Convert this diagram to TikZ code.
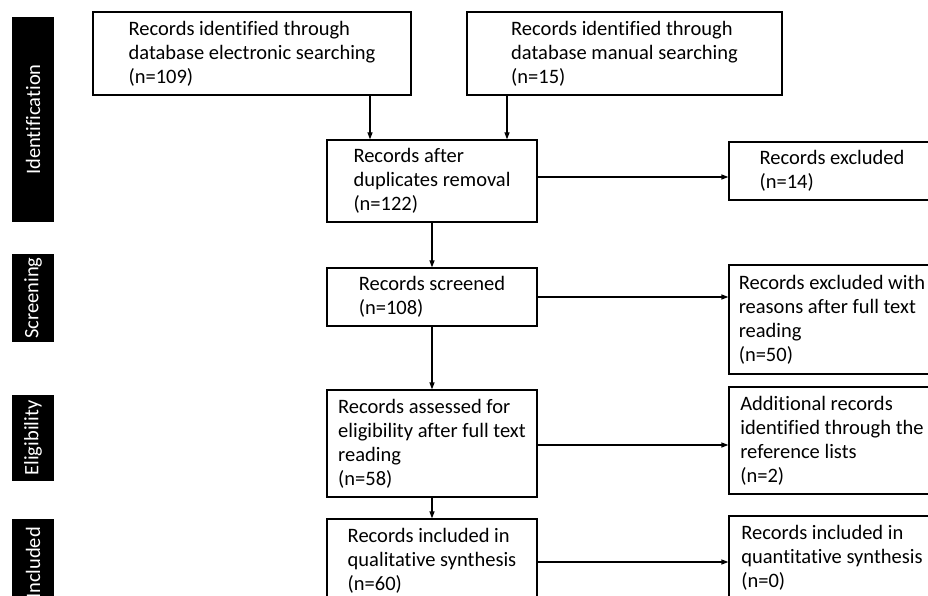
\documentclass[tikz,border=0pt]{standalone}
\usepackage{fontspec}
\setmainfont[Ligatures=NoCommon]{Carlito}
\usetikzlibrary{arrows.meta}

\begin{document}
\begin{tikzpicture}[x=1pt, y=-1pt, font=\fontsize{20.5}{24}\selectfont]
\tikzset{boite/.style={draw, line width=1.3pt, align=left, inner sep=0pt, minimum width=210pt},
  etape/.style={fill=black, text=white, rotate=90, minimum height=42pt, inner sep=0pt},
  fleche/.style={-{Triangle[length=7pt, width=5pt]}, line width=1.3pt}}
\useasboundingbox (0,0) rectangle (928,596);
\clip (0,0) rectangle (928,596);
% phases
\node[etape, minimum width=205pt] (P1) at (33,119.5) {Identification};
\node[etape, minimum width=88pt] (P2) at (33,298) {Screening};
\node[etape, minimum width=86pt] (P3) at (33,438) {Eligibility};
\node[etape, minimum width=88pt] (P4) at (33,563) {Included};
% boxes
\node[boite, minimum width=318pt, minimum height=83pt] (R1) at (252,53.5) {Records identified through\\database electronic searching\\(n=109)};
\node[boite, minimum width=315pt, minimum height=83pt] (R2) at (624.5,53.5) {Records identified through\\database manual searching\\(n=15)};
\node[boite, minimum height=82pt] (R3) at (432,181) {Records after\\duplicates removal\\(n=122)};
\node[boite, minimum width=206pt, minimum height=58pt] (R4) at (832,171) {Records excluded\\(n=14)};
\node[boite, minimum height=58pt] (R5) at (432,297) {Records screened\\(n=108)};
\node[boite, minimum width=206pt, minimum height=109pt] (R6) at (832,319.5) {Records excluded with\\reasons after full text\\reading\\(n=50)};
\node[boite, minimum height=107pt] (R7) at (432,443.5) {Records assessed for\\eligibility after full text\\reading\\(n=58)};
\node[boite, minimum width=206pt, minimum height=107pt] (R8) at (832,440.5) {Additional records\\identified through the\\reference lists\\(n=2)};
\node[boite, minimum height=84pt] (R9) at (432,561) {Records included in\\qualitative synthesis\\(n=60)};
\node[boite, minimum width=206pt, minimum height=84pt] (R10) at (832,558) {Records included in\\quantitative synthesis\\(n=0)};
% arrows
\draw[fleche] (R1.south -| 370,0) -- (R3.north -| 370,0);
\draw[fleche] (R2.south -| 507,0) -- (R3.north -| 507,0);
\draw[fleche] (R3.east |- 0,177) -- (R4.west |- 0,177);
\draw[fleche] (R3) -- (R5);
\draw[fleche] (R5.east) -- (R5.east -| R6.west);
\draw[fleche] (R5) -- (R7);
\draw[fleche] (R7.east |- 0,445) -- (R8.west |- 0,445);
\draw[fleche] (R7) -- (R9);
\draw[fleche] (R9.east |- 0,562) -- (R10.west |- 0,562);
\end{tikzpicture}
\end{document}
